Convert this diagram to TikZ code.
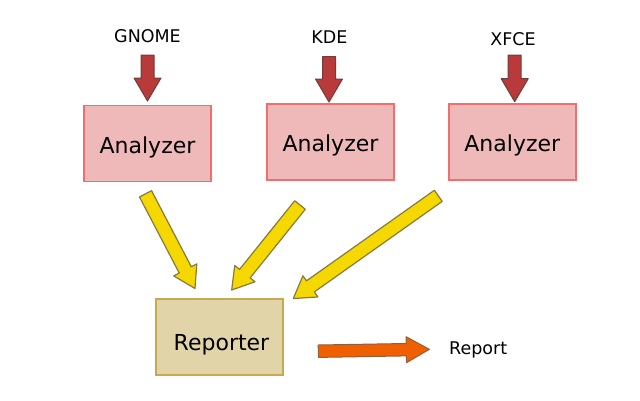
\documentclass[tikz,border=0pt]{standalone}
\usepackage{fontspec}
\setmainfont{DejaVu Sans}
\usetikzlibrary{calc}
\definecolor{anafill}{RGB}{240,185,185}
\definecolor{anadraw}{RGB}{240,110,110}
\definecolor{repfill}{RGB}{225,212,168}
\definecolor{repdraw}{RGB}{200,168,80}
\definecolor{redfill}{RGB}{184,58,58}
\definecolor{reddraw}{RGB}{115,60,60}
\definecolor{yelfill}{RGB}{245,216,0}
\definecolor{yeldraw}{RGB}{135,122,60}
\definecolor{orafill}{RGB}{240,96,0}
\definecolor{oradraw}{RGB}{145,95,60}
\newcommand\fatarrow[6]{%
  \path ($(#3)!#6!(#2)$) coordinate (fa-base);
  \draw[#1] ($(#2)!#4!90:(#3)$) -- ($(fa-base)!#4!90:(#3)$) -- ($(fa-base)!#5!90:(#3)$)
    -- (#3) -- ($(fa-base)!#5!-90:(#3)$) -- ($(fa-base)!#4!-90:(#3)$)
    -- ($(#2)!#4!-90:(#3)$) -- cycle;}
\tikzset{
  anabox/.style={draw=anadraw, fill=anafill, line width=1.5pt, minimum width=127pt,
    minimum height=76pt, inner sep=0pt, text height=19pt, text depth=0pt,
    font=\fontsize{22}{26}\selectfont},
  repbox/.style={draw=repdraw, fill=repfill, line width=1.5pt, minimum width=127pt,
    minimum height=76pt, inner sep=0pt, text height=26pt, text depth=0pt,
    font=\fontsize{22}{26}\selectfont},
  lbl/.style={anchor=base, inner sep=0pt, font=\fontsize{17.5}{20}\selectfont},
  redarrow/.style={fill=redfill, draw=reddraw, line width=1pt, line join=round},
  yelarrow/.style={fill=yelfill, draw=yeldraw, line width=1.2pt, line join=round},
  oraarrow/.style={fill=orafill, draw=oradraw, line width=1pt, line join=round},
}
\begin{document}
\begin{tikzpicture}[x=1pt, y=-1pt]
\useasboundingbox[fill=white] (0,0) rectangle (640,400);
% sources
\node[lbl] (gnome) at (147.5,42) {GNOME};
\node[lbl] (kde) at (329.5,43.3) {KDE};
\node[lbl] (xfce) at (513,45) {XFCE};
% boxes
\node[anabox] (a1) at (147.5,143.7) {Analyzer};
\node[anabox] (a2) at (330.5,142.2) {Analyzer};
\node[anabox] (a3) at (512.3,142.2) {Analyzer};
\node[repbox] (rep) at (219.5,337.2) {\hspace*{4pt}Reporter};
\node[lbl, anchor=base west] (report) at (449,354.3) {Report};
% arrow end points
\coordinate (g1) at (147.5,55);   \coordinate (g2) at (147.5,101);
\coordinate (k1) at (329,56.5);   \coordinate (k2) at (329,102);
\coordinate (x1) at (514.7,55);   \coordinate (x2) at (514.7,101.7);
\coordinate (y1a) at (145.5,193.8); \coordinate (y1b) at (195,288.5);
\coordinate (y2a) at (300,205);     \coordinate (y2b) at (231.7,290);
\coordinate (y3a) at (438.3,195.8); \coordinate (y3b) at (293.3,298.5);
\coordinate (o1) at (318.3,351.2);  \coordinate (o2) at (429.3,349.3);
% red arrows
\fatarrow{redarrow}{g1}{g2}{6.5pt}{13.5pt}{23pt}
\fatarrow{redarrow}{k1}{k2}{6.5pt}{13.5pt}{23pt}
\fatarrow{redarrow}{x1}{x2}{6.5pt}{13.5pt}{23pt}
% yellow arrows
\fatarrow{yelarrow}{y1a}{y1b}{6.8pt}{13pt}{21pt}
\fatarrow{yelarrow}{y2a}{y2b}{6.8pt}{13pt}{21pt}
\fatarrow{yelarrow}{y3a}{y3b}{6.8pt}{13pt}{21pt}
% orange arrow
\fatarrow{oraarrow}{o1}{o2}{6.2pt}{13pt}{23pt}
\end{tikzpicture}
\end{document}
